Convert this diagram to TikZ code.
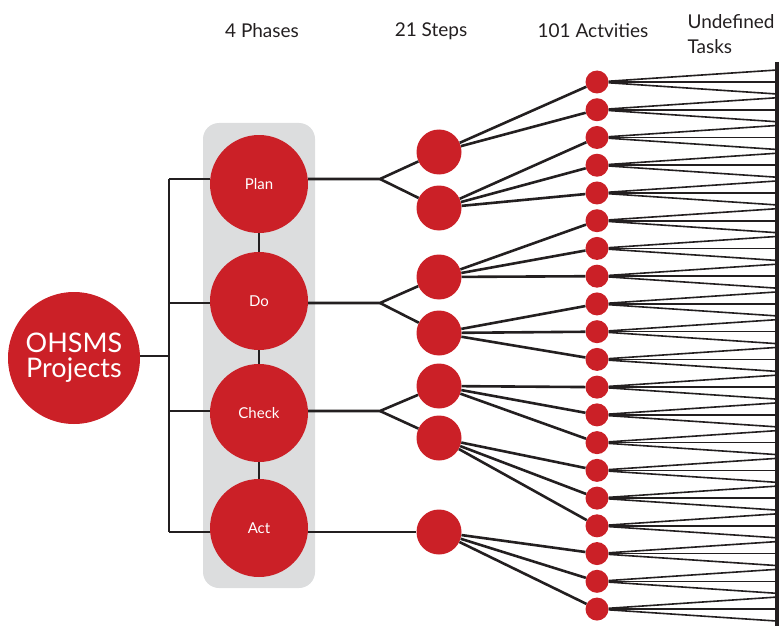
\documentclass[tikz,border=0pt]{standalone}
\usepackage{fontspec}
\setmainfont{Lato}
\usepackage{tikz}
\usetikzlibrary{arrows}

\definecolor{ohsred}{HTML}{CB2027}
\definecolor{ohsgray}{HTML}{DCDDDE}
\definecolor{ohsline}{HTML}{231F20}

\tikzset{
  bigdot/.style = {circle, fill=ohsred, text=white, inner sep=0pt},
  phase/.style = {bigdot, minimum size=98pt, font=\fontsize{15}{17}\selectfont},
  stepdot/.style = {bigdot, minimum size=45pt},
  actdot/.style = {bigdot, minimum size=23pt},
  head/.style = {text=ohsline, font=\fontsize{19}{25}\selectfont},
  link/.style = {draw=ohsline, line width=2.6pt},
  task/.style = {draw=ohsline, line width=1.6pt}
}

\begin{document}
\begin{tikzpicture}[x=1pt, y=-1pt]
  \useasboundingbox (0, 0) rectangle (780, 626);
  \fill [ohsgray, rounded corners=16pt] (203, 123) rectangle (315, 588);

  \node [head] (HP) at (262, 31) {4 Phases};
  \node [head] (HS) at (431, 31) {21 Steps};
  \node [head] (HA) at (593, 31) {101 Actvities};
  \node [head, anchor=west, align=left] (HT) at (684, 34) {Undefined\\Tasks};

  \node [bigdot, minimum size=132pt, align=center,
         font=\fontsize{27}{25}\selectfont] (OP) at (74, 358) {OHSMS\\Projects};

  \node [phase] (PL) at (259, 184) {Plan};
  \node [phase] (DO) at (259, 301) {Do};
  \node [phase] (CH) at (259, 413) {Check};
  \node [phase] (AC) at (259, 528) {Act};

  \node [stepdot] (S1) at (439, 152) {};
  \node [stepdot] (S2) at (439, 208) {};
  \node [stepdot] (S3) at (439, 277) {};
  \node [stepdot] (S4) at (439, 333) {};
  \node [stepdot] (S5) at (439, 386) {};
  \node [stepdot] (S6) at (439, 438) {};
  \node [stepdot] (S7) at (439, 532) {};

  % left bracket
  \coordinate (BL) at (169, 356);
  \coordinate (BPL) at (169, 179);
  \coordinate (BDO) at (169, 303);
  \coordinate (BCH) at (169, 411);
  \coordinate (BAC) at (169, 532);
  \draw [link] (OP.east |- BL) -- (BL);
  \draw [link] (BPL) -- (BAC);
  \draw [link] (BPL) -- (PL.west |- BPL);
  \draw [link] (BDO) -- (DO.west |- BDO);
  \draw [link] (BCH) -- (CH.west |- BCH);
  \draw [link] (BAC) -- (AC.west |- BAC);
  \draw [link] (PL) -- (DO);
  \draw [link] (DO) -- (CH);
  \draw [link] (CH) -- (AC);

  % forks to steps
  \coordinate (FPL) at (380, 179);
  \coordinate (FDO) at (380, 303);
  \coordinate (FCH) at (380, 411);
  \draw [link] (PL.east |- FPL) -- (FPL) -- (S1);
  \draw [link] (FPL) -- (S2);
  \draw [link] (DO.east |- FDO) -- (FDO) -- (S3);
  \draw [link] (FDO) -- (S4);
  \draw [link] (CH.east |- FCH) -- (FCH) -- (S5);
  \draw [link] (FCH) -- (S6);
  \draw [link] (AC.east |- S7) -- (S7);

  % activities and tasks
  \coordinate (BT) at (777, 62);
  \coordinate (BB) at (777, 626);
  \foreach \i in {1,...,20} {
    \pgfmathsetmacro{\ay}{82 + 27.74*(\i-1)}
    \node [actdot] (A\i) at (597, \ay) {};
    \coordinate (T\i u) at (777, \ay-12);
    \coordinate (T\i m) at (777, \ay);
    \coordinate (T\i d) at (777, \ay+12);
    \draw [task] (A\i) -- (T\i u);
    \draw [task] (A\i) -- (T\i m);
    \draw [task] (A\i) -- (T\i d);
  }
  \draw [draw=ohsline, line width=3.5pt] (BT) -- (BB);

  \foreach \s/\a in {1/1, 1/2, 2/3, 2/4, 2/5, 3/6, 3/7, 3/8, 4/9, 4/10,
                     4/11, 5/12, 5/13, 5/14, 6/15, 6/16, 6/17, 7/18, 7/19, 7/20}
    \draw [link] (S\s) -- (A\a);
\end{tikzpicture}
\end{document}
